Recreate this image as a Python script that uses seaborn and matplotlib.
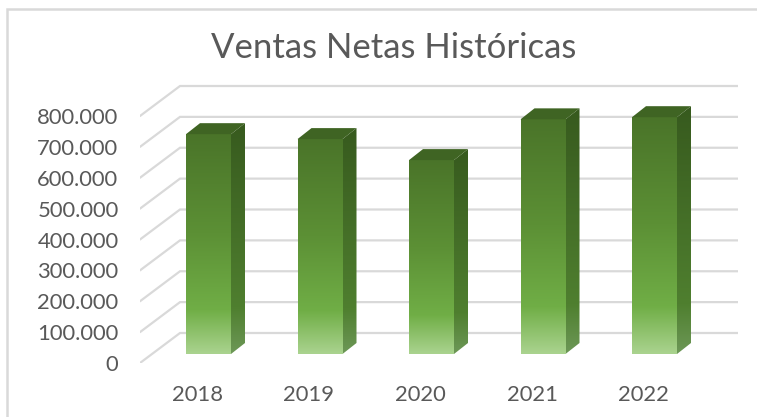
import matplotlib
matplotlib.use("Agg")
import matplotlib.pyplot as plt
import matplotlib.transforms as mtrans
from matplotlib.colors import LinearSegmentedColormap
from matplotlib.patches import Polygon, Rectangle
import numpy as np
import pandas as pd
import seaborn as sns

years = ["2018", "2019", "2020", "2021", "2022"]
ventas = [712000, 696000, 628000, 760000, 767000]
y_ticks = [0, 100000, 200000, 300000, 400000, 500000, 600000, 700000, 800000]
title = "Ventas Netas Históricas"

W, H = 757, 417
TEXT = "#595959"
GRID = "#d9d9d9"

# pixel layout of the fake 3D box
px_left, px_right, px_zero, px_top = 140, 738, 363, 80
px_per_cat = 111.5
px_per_unit = 30.875 / 100000

front_cmap = LinearSegmentedColormap.from_list(
    "front", [(0, "#4a7429"), (0.45, "#5c9035"), (0.8, "#70ae46"), (1, "#aad38f")])
side_cmap = LinearSegmentedColormap.from_list(
    "side", [(0, "#375a1e"), (0.8, "#4f7f2f"), (1, "#6d9857")])
top_color = "#3f6423"


def to_x(px):
    return px / px_per_cat


def to_y(px):
    return px / px_per_unit


def gradient_fill(ax, patch, cmap, extent):
    grad = np.linspace(0, 1, 256).reshape(-1, 1)
    ax.add_patch(patch)
    im = ax.imshow(grad, cmap=cmap, extent=extent, origin="upper", aspect="auto",
                   vmin=0, vmax=1, zorder=3)
    im.set_clip_path(patch)


def main():
    sns.set_theme(style="white")
    plt.rcParams["font.family"] = ["Lato", "DejaVu Sans"]

    fig = plt.figure(figsize=(W / 100, H / 100), dpi=100, facecolor="white")
    ax = fig.add_axes([px_left / W, (H - px_zero) / H,
                       (px_right - px_left) / W, (px_zero - px_top) / H])
    ax.patch.set_alpha(0)

    # chart frame runs off the right and bottom of the picture
    fig.add_artist(Rectangle((7 / W, -0.1), 1.2, 1 - 9 / H + 0.1, transform=fig.transFigure,
                             fill=False, edgecolor=GRID, linewidth=1.8))

    df = pd.DataFrame({"year": years, "ventas": ventas})
    sns.barplot(data=df, x="year", y="ventas", color="#70ae46", width=45 / px_per_cat,
                ax=ax, zorder=3)

    xlim = (-68.5 / px_per_cat, (px_right - px_left - 68.5) / px_per_cat)
    ylim = (0, to_y(px_zero - px_top))

    # box gridlines: diagonal floor edge then back wall line
    back_dx, back_dy = to_x(40), to_y(30)
    for v in y_ticks:
        ax.plot([xlim[0], xlim[0] + back_dx, xlim[1]], [v, v + back_dy, v + back_dy],
                color=GRID, lw=1.6, zorder=1, solid_joinstyle="miter")

    # bars sit 9 px above the front floor edge, with a 14x11 px depth
    base = to_y(9)
    dx, dy = to_x(14), to_y(11)
    for bar in list(ax.patches):
        x0, w, h = bar.get_x(), bar.get_width(), bar.get_height()
        bar.set_y(base)
        bar.set_visible(False)
        y0, y1, x1 = base, base + h, x0 + w

        front = Rectangle((x0, y0), w, h, fc="none", ec="none", zorder=3)
        gradient_fill(ax, front, front_cmap, [x0, x1, y0, y1])

        side = Polygon([(x1, y0), (x1 + dx, y0 + dy), (x1 + dx, y1 + dy), (x1, y1)],
                       fc="none", ec="none", zorder=3)
        gradient_fill(ax, side, side_cmap, [x1, x1 + dx, y0, y1 + dy])

        ax.add_patch(Polygon([(x0, y1), (x0 + dx, y1 + dy), (x1 + dx, y1 + dy), (x1, y1)],
                             fc=top_color, ec="none", zorder=3))

    ax.set_xlim(xlim)
    ax.set_ylim(ylim)
    sns.despine(ax=ax, left=True, bottom=True)
    ax.set_xlabel("")
    ax.set_ylabel("")
    ax.grid(False)

    ax.set_yticks(y_ticks)
    ax.set_yticklabels([f"{v:,}".replace(",", ".") for v in y_ticks])
    ax.tick_params(axis="y", length=0, pad=15.5, labelsize=15.8, labelcolor=TEXT)
    ax.tick_params(axis="x", length=0, pad=16, labelsize=15.8, labelcolor=TEXT)

    # year labels sit left of the bars, following the 3D floor
    shift = mtrans.ScaledTranslation(-11 / 100, 0, fig.dpi_scale_trans)
    for label in ax.get_xticklabels():
        label.set_transform(label.get_transform() + shift)

    fig.text(394 / W, 1 - 48 / H, title, ha="center", va="center", fontsize=25, color=TEXT)

    fig.savefig("out.png", dpi=100)
    plt.close(fig)


if __name__ == "__main__":
    main()
